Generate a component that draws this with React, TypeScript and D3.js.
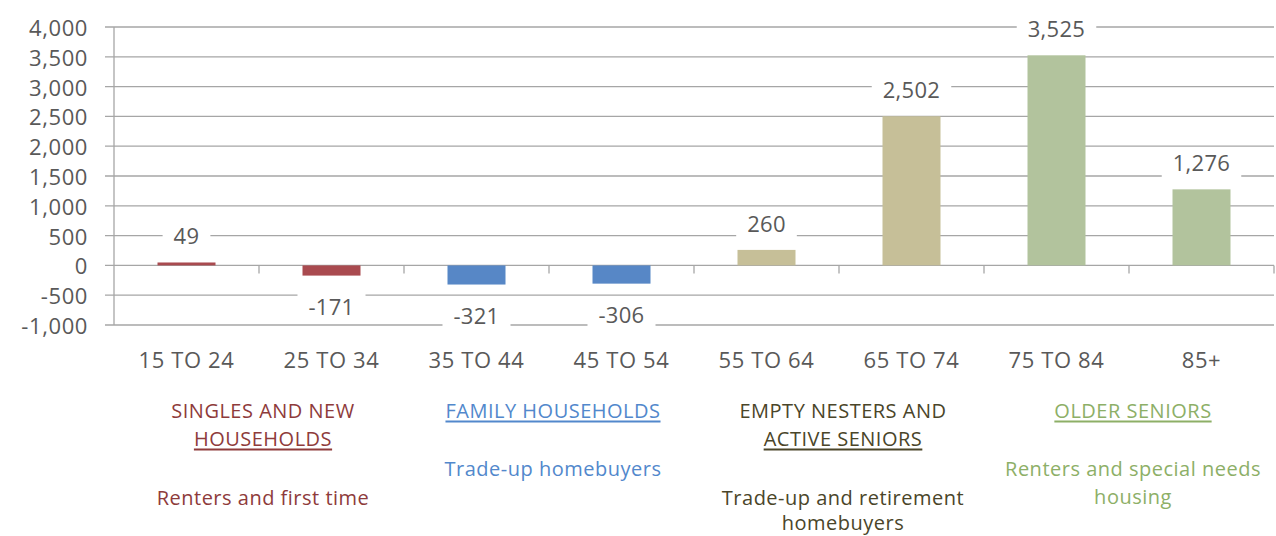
import React from "react";
import * as d3 from "d3";

const categories = ["15 TO 24", "25 TO 34", "35 TO 44", "45 TO 54", "55 TO 64", "65 TO 74", "75 TO 84", "85+"];
const values = [49, -171, -321, -306, 260, 2502, 3525, 1276];
const barGroup = [0, 0, 1, 1, 2, 2, 3, 3];
const yTicks = [-1000, -500, 0, 500, 1000, 1500, 2000, 2500, 3000, 3500, 4000];

const groupTitles = [
  ["SINGLES AND NEW", "HOUSEHOLDS"],
  ["FAMILY HOUSEHOLDS"],
  ["EMPTY NESTERS AND", "ACTIVE SENIORS"],
  ["OLDER SENIORS"],
];
const groupSubtitles = [
  ["Renters and first time"],
  ["Trade-up homebuyers"],
  ["Trade-up and retirement", "homebuyers"],
  ["Renters and special needs", "housing"],
];

const barColors = ["#A94A4F", "#5787C6", "#C6BF98", "#B2C39D"];
const textColors = ["#8E3B3B", "#5288CC", "#4A4529", "#8DAF67"];

const W = 1276;
const H = 536;
const FONT = "'Open Sans', sans-serif";
const GRID = "#A6A6A6";
const TXT = "#595959";

const locale = d3.formatLocale({ decimal: ".", thousands: ",", grouping: [3], currency: ["$", ""], minus: "-" });
const fmt = locale.format(",");

function measure(text: string, size: number, ls: number): number {
  if (typeof document === "undefined") return text.length * size * 0.55;
  const c = document.createElement("canvas");
  const ctx = c.getContext("2d");
  if (!ctx) return text.length * size * 0.55;
  ctx.font = `${size}px 'Open Sans', sans-serif`;
  return ctx.measureText(text).width + ls * text.length;
}

export default function App() {
  const plotLeft = 114;
  const plotRight = 1274;
  const x = d3.scaleBand<string>().domain(categories).range([plotLeft, plotRight]).paddingInner(0.6).paddingOuter(0.3);
  const xb = d3.scaleBand<string>().domain(categories).range([plotLeft, plotRight]).padding(0);
  const y = d3.scaleLinear().domain([-1000, 4000]).range([325, 27]);
  const labelSize = 22;
  const labelLS = 0.3;
  const tickSize = 22;
  const tickLS = 0.6;
  const groupSize = 20;
  const groupLS = 0.5;

  const groupCenter = (g: number) => {
    const a = xb(categories[g * 2])!;
    return a + xb.bandwidth() + 4;
  };

  const titleY = [410, 438];
  return (
    <svg width={W} height={H} style={{ position: "absolute", left: 0, top: 0, background: "#fff" }} fontFamily={FONT}>
      {yTicks.map((t) => (
        <line key={"g" + t} x1={105} x2={plotRight} y1={y(t)} y2={y(t)} stroke={GRID} strokeWidth={1.3} />
      ))}
      <line x1={plotLeft} x2={plotLeft} y1={y(4000)} y2={y(-1000)} stroke={GRID} strokeWidth={1.3} />
      {categories.map((c) => (
        <line key={"t" + c} x1={xb(c)! + xb.bandwidth()} x2={xb(c)! + xb.bandwidth()} y1={y(0)} y2={y(0) + 8} stroke={GRID} strokeWidth={1.3} />
      ))}
      {yTicks.map((t) => (
        <text key={"yl" + t} x={88} y={y(t)} textAnchor="end" dominantBaseline="central" fontSize={tickSize} letterSpacing={tickLS} fill={TXT}>
          {fmt(t)}
        </text>
      ))}
      {categories.map((c, i) => {
        const v = values[i];
        const y0 = y(Math.max(0, v));
        const y1 = y(Math.min(0, v));
        return <rect key={"b" + c} x={x(c)} y={y0} width={x.bandwidth()} height={y1 - y0} fill={barColors[barGroup[i]]} />;
      })}
      {categories.map((c, i) => {
        const v = values[i];
        const s = fmt(v);
        const cx = x(c)! + x.bandwidth() / 2;
        const cy = v >= 0 ? y(v) - 27 : y(v) + 30;
        const w = measure(s, labelSize, labelLS) + 22;
        return (
          <g key={"l" + c}>
            <rect x={cx - w / 2} y={cy - 15} width={w} height={30} fill="#fff" />
            <text x={cx} y={cy} textAnchor="middle" dominantBaseline="central" fontSize={labelSize} letterSpacing={labelLS} fill={TXT}>
              {s}
            </text>
          </g>
        );
      })}
      {categories.map((c) => (
        <text key={"xl" + c} x={xb(c)! + xb.bandwidth() / 2} y={359} textAnchor="middle" dominantBaseline="central" fontSize={tickSize} letterSpacing={tickLS} fill={TXT}>
          {c}
        </text>
      ))}
      {groupTitles.map((lines, g) => {
        const cx = groupCenter(g);
        const subs = groupSubtitles[g];
        const subStart = lines.length === 1 ? 468 : 497;
        return (
          <g key={"grp" + g} fill={textColors[g]} fontSize={groupSize} letterSpacing={groupLS}>
            {lines.map((ln, k) => (
              <text
                key={k}
                x={cx}
                y={titleY[k]}
                textAnchor="middle"
                dominantBaseline="central"
                textDecoration={k === lines.length - 1 ? "underline" : undefined}
                style={k === lines.length - 1 ? { textDecoration: "underline" } : undefined}
              >
                {ln}
              </text>
            ))}
            {subs.map((ln, k) => (
              <text key={"s" + k} x={cx} y={subStart + k * (lines.length === 1 ? 28 : 25.5)} textAnchor="middle" dominantBaseline="central">
                {ln}
              </text>
            ))}
          </g>
        );
      })}
    </svg>
  );
}
